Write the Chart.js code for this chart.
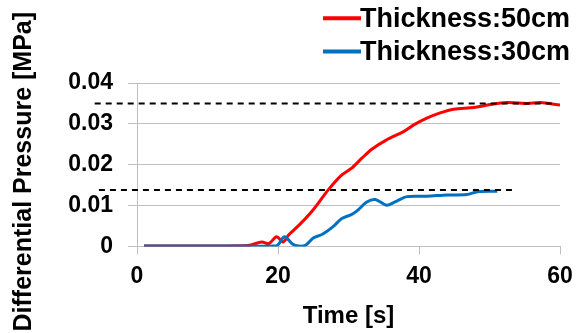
<!DOCTYPE html>
<html>
<head>
<meta charset="utf-8">
<script src="https://cdn.jsdelivr.net/npm/chart.js@4"></script>
<style>
  html, body { margin: 0; padding: 0; background: #fff; }
</style>
</head>
<body>
<canvas id="chart" width="585" height="333"></canvas>
<script>
// Thickness 50cm (red)
const redTime = [1, 5, 10, 15, 16, 17.7, 18.7, 19.8, 20.7, 21.5, 23.2, 25, 27.1, 28.9, 30.4, 31.9, 33.3, 35.4, 37.8, 39.2, 41.1, 43, 44.9, 47.8, 49.7, 52.5, 55.4, 57.2, 60];
const redPressure = [0.0001, 0.0001, 0.0001, 0.0002, 0.0003, 0.0011, 0.0007, 0.0024, 0.0011, 0.0028, 0.0056, 0.009, 0.0138, 0.0173, 0.0191, 0.0216, 0.0238, 0.0261, 0.0281, 0.0297, 0.0314, 0.0327, 0.0336, 0.034, 0.0346, 0.0352, 0.035, 0.0352, 0.0346];

// Thickness 30cm (blue)
const blueTime = [1, 5, 10, 15, 19.8, 20.9, 22, 22.9, 23.9, 25, 26.3, 27.9, 29, 30.4, 31.2, 32.6, 33.8, 35.4, 36.6, 38.3, 41.1, 44, 46.8, 48.3, 51.1];
const bluePressure = [0.0001, 0.0001, 0.0001, 0.0001, 0.0002, 0.0024, 0.0007, 0.0001, 0.0003, 0.0021, 0.003, 0.005, 0.0068, 0.0078, 0.0087, 0.0109, 0.0115, 0.0101, 0.0109, 0.0122, 0.0123, 0.0126, 0.0127, 0.0134, 0.0135];

// dashed reference levels
const upperLevelTime = [-6, 59.4];
const upperLevel = [0.035, 0.035];
const lowerLevelTime = [-5.4, 53.2];
const lowerLevel = [0.0138, 0.0138];

const xTickLabels = ['0', '20', '40', '60'];
const yTickLabels = ['0', '0.01', '0.02', '0.03', '0.04'];

const toPoints = (xs, ys) => xs.map((x, i) => ({ x: x, y: ys[i] }));

Chart.defaults.font.family = '"Liberation Sans", Arial, sans-serif';
Chart.defaults.color = '#000';

// legend drawn as two stacked rows at the top right
const stackedLegend = {
  id: 'stackedLegend',
  afterDraw(chart) {
    const ctx = chart.ctx;
    ctx.save();
    ctx.font = 'bold 27px "Liberation Sans", Arial, sans-serif';
    ctx.textBaseline = 'alphabetic';
    let y = 26.7;
    chart.data.datasets.forEach((ds) => {
      if (!ds.label) return;
      ctx.strokeStyle = ds.borderColor;
      ctx.lineWidth = 4;
      ctx.beginPath();
      ctx.moveTo(323, y - 8.4);
      ctx.lineTo(361, y - 8.4);
      ctx.stroke();
      ctx.fillStyle = '#000';
      ctx.fillText(ds.label, 360, y);
      y += 33.3;
    });
    ctx.restore();
  }
};

new Chart(document.getElementById('chart'), {
  type: 'line',
  data: {
    datasets: [
      {
        label: 'Thickness:50cm',
        data: toPoints(redTime, redPressure),
        borderColor: '#ff0000',
        borderWidth: 3,
        pointRadius: 0,
        tension: 0.3,
        order: 2,
      },
      {
        label: 'Thickness:30cm',
        data: toPoints(blueTime, bluePressure),
        borderColor: '#0070c0',
        borderWidth: 3,
        pointRadius: 0,
        tension: 0.3,
        order: 1,
      },
      {
        data: toPoints(upperLevelTime, upperLevel),
        borderColor: '#000',
        borderWidth: 2,
        borderDash: [6, 5],
        pointRadius: 0,
        clip: false,
        order: 0,
      },
      {
        data: toPoints(lowerLevelTime, lowerLevel),
        borderColor: '#000',
        borderWidth: 2,
        borderDash: [6, 5],
        pointRadius: 0,
        clip: false,
        order: 0,
      },
    ],
  },
  options: {
    responsive: false,
    animation: false,
    layout: { padding: { top: 83, right: 25, left: 0, bottom: 0 } },
    plugins: {
      legend: { display: false },
      tooltip: { enabled: false },
    },
    scales: {
      x: {
        type: 'linear',
        min: 0,
        max: 60,
        afterFit: (scale) => { scale.height = 86.5; },
        ticks: {
          stepSize: 20,
          padding: 8,
          font: { size: 23, weight: 'bold' },
          callback: (v, i) => xTickLabels[i],
        },
        grid: {
          drawOnChartArea: false,
          tickLength: 8,
          color: '#bfbfbf',
        },
        border: { color: '#bfbfbf' },
        title: {
          display: true,
          text: 'Time [s]',
          font: { size: 24, weight: 'bold' },
          padding: { top: 0, bottom: 2 },
        },
      },
      y: {
        min: 0,
        max: 0.04,
        afterFit: (scale) => { scale.width = 137; },
        ticks: {
          stepSize: 0.01,
          padding: 15,
          font: { size: 23, weight: 'bold' },
          callback: (v, i) => yTickLabels[i],
        },
        grid: {
          tickLength: 9,
          color: '#bfbfbf',
        },
        border: { color: '#bfbfbf' },
        title: {
          display: true,
          text: 'Differential Pressure [MPa]  ',
          font: { size: 25, weight: 'bold' },
          padding: { top: 9, bottom: 0 },
        },
      },
    },
  },
  plugins: [stackedLegend],
});
</script>
</body>
</html>
